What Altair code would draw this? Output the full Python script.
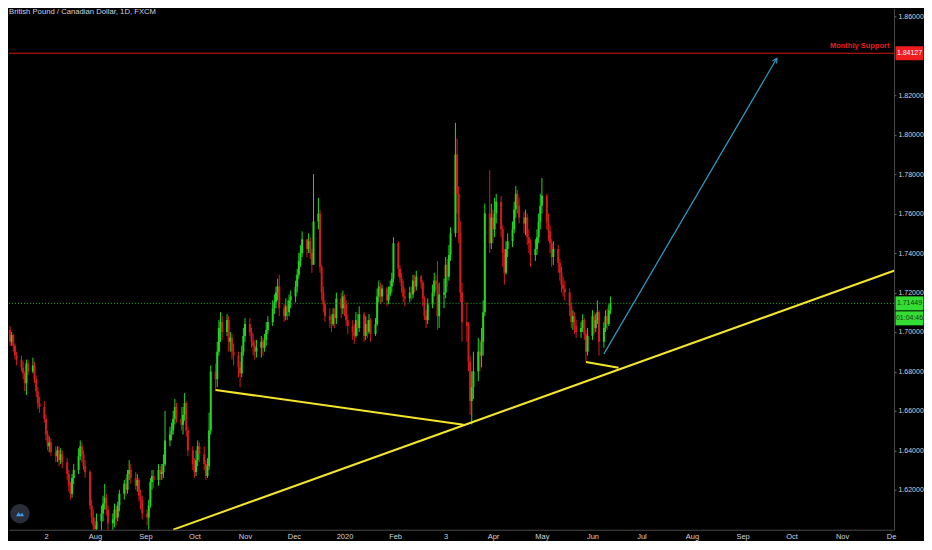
import altair as alt
import pandas as pd

FONT = "Liberation Sans, Arial, sans-serif"
BG = "#000000"
GREEN = "#22d622"
RED = "#d41a1a"
YELLOW = "#f2e52c"
BLUE = "#2b9fc7"
AXIS_TXT = "#d0d2d8"

TITLE = "British Pound / Canadian Dollar, 1D, FXCM"

# ---- daily candles (prices x 10000), one row per trading day, 2019-06-10 .. 2020-06-12
first_open = 17010
close_pips = [
    16950, 16985, 16930, 16880, 16860,  16820, 16790, 16740, 16840, 16800,
    16830, 16760, 16700, 16640, 16620,  16560, 16480, 16420, 16440, 16390,
    16370, 16400, 16350, 16380, 16340,  16280, 16220, 16180, 16260, 16300,
    16370, 16420, 16380, 16320, 16290,  16120, 16060, 16020, 16000, 16040,
    16080, 16130, 16160, 16100, 16030,  16050, 16100, 16060, 16120, 16180,
    16230, 16200, 16280, 16300, 16260,  16220, 16250, 16170, 16150, 16080,
    16060, 16120, 16240, 16270, 16250,  16300, 16280, 16290, 16330, 16450,
    16480, 16500, 16560, 16620, 16560,  16530, 16580, 16640, 16500, 16400,
    16330, 16290, 16350, 16420, 16380,  16330, 16270, 16320, 16500, 16800,
    16760, 16900, 17020, 17050, 17000,  17060, 16950, 16970, 16900, 16880,
    16820, 16790, 16900, 16980, 17040,  17000, 16950, 16930, 16900, 16920,
    16950, 16920, 16960, 17010, 17050,  17120, 17150, 17200, 17230, 17120,
    17080, 17130, 17100, 17160, 17180,  17230, 17290, 17360, 17400, 17470,
    17420, 17460, 17400, 17340, 17560,  17600, 17330, 17200, 17140, 17080,
    17060, 17040, 17090, 17070, 17170,  17120, 17180, 17140, 17060, 17030,
    17000, 16980, 17060, 17020, 17090,  16980, 17040, 17000, 17060, 16990,
    17040, 17180, 17230, 17180, 17220,  17160, 17190, 17230, 17270, 17450,
    17320, 17270, 17230, 17180, 17170,  17200, 17190, 17260, 17230, 17280,
    17250, 17170, 17080, 17060, 17140,  17200, 17260, 17240, 17080, 17190,
    17200, 17340, 17280, 17390, 17500,  17900, 17700, 17500, 17200, 17050,
    17030, 16850, 16650, 16720, 16800,  16900, 16880, 16950, 17100, 17600,
    17450, 17580, 17520, 17600, 17660,  17520, 17400, 17300, 17420, 17460,
    17520, 17620, 17700, 17640, 17580,  17550, 17580, 17480, 17450, 17390,
    17420, 17480, 17560, 17640, 17690,  17560, 17510, 17450, 17380, 17420,
    17350, 17300, 17240, 17220, 17200,  17130, 17050, 17080, 17030, 17000,
    17020, 17060, 16990, 16900, 16980,  17080, 17020, 17060, 17100, 16950,
    17020, 17080, 17040, 17110, 17145,
]
high_pips = [
    17030, 17000, 16990, 16940, 16900,  16880, 16850, 16800, 16860, 16860,
    16870, 16850, 16780, 16720, 16670,  16650, 16580, 16500, 16470, 16460,
    16420, 16420, 16420, 16410, 16400,  16360, 16300, 16240, 16280, 16330,
    16410, 16450, 16440, 16400, 16350,  16300, 16150, 16100, 16060, 16080,
    16120, 16170, 16230, 16180, 16120,  16080, 16130, 16120, 16140, 16200,
    16250, 16260, 16300, 16350, 16330,  16290, 16280, 16260, 16200, 16170,
    16100, 16150, 16260, 16300, 16300,  16330, 16320, 16330, 16380, 16600,
    16520, 16540, 16600, 16660, 16640,  16620, 16620, 16690, 16650, 16520,
    16420, 16360, 16400, 16450, 16440,  16420, 16350, 16360, 16590, 16830,
    16840, 16950, 17060, 17100, 17080,  17090, 17080, 17000, 16990, 16940,
    16900, 16850, 16930, 17020, 17070,  17070, 17020, 16990, 16960, 16960,
    16980, 16970, 16990, 17050, 17080,  17160, 17190, 17230, 17270, 17290,
    17140, 17170, 17160, 17190, 17210,  17260, 17320, 17400, 17440, 17510,
    17470, 17500, 17480, 17420, 17800,  17680, 17620, 17340, 17230, 17160,
    17120, 17090, 17120, 17120, 17200,  17200, 17210, 17190, 17160, 17090,
    17060, 17040, 17100, 17090, 17130,  17100, 17080, 17060, 17090, 17070,
    17070, 17220, 17260, 17250, 17240,  17230, 17230, 17260, 17300, 17480,
    17460, 17340, 17300, 17260, 17220,  17230, 17230, 17290, 17290, 17310,
    17290, 17260, 17180, 17110, 17170,  17240, 17300, 17290, 17360, 17250,
    17270, 17380, 17370, 17440, 17530,  18060, 17980, 17740, 17560, 17250,
    17150, 17050, 16880, 16800, 16900,  16970, 16960, 17020, 17160, 17650,
    17820, 17650, 17620, 17680, 17700,  17690, 17540, 17420, 17460, 17500,
    17560, 17660, 17740, 17720, 17680,  17610, 17620, 17600, 17520, 17470,
    17470, 17520, 17600, 17700, 17780,  17700, 17600, 17540, 17470, 17460,
    17440, 17370, 17330, 17280, 17260,  17220, 17150, 17110, 17100, 17060,
    17050, 17090, 17070, 17010, 17020,  17110, 17100, 17090, 17160, 17110,
    17050, 17110, 17120, 17140, 17180,
]
low_pips = [
    16930, 16930, 16900, 16860, 16830,  16800, 16760, 16700, 16680, 16780,
    16790, 16740, 16670, 16610, 16590,  16540, 16450, 16400, 16390, 16370,
    16340, 16340, 16320, 16330, 16310,  16250, 16190, 16150, 16160, 16230,
    16280, 16350, 16340, 16300, 16260,  16100, 16030, 15990, 15960, 15980,
    15990, 16040, 16100, 16070, 15980,  15990, 16010, 16020, 16040, 16090,
    16150, 16170, 16180, 16250, 16230,  16200, 16190, 16140, 16100, 16050,
    16020, 15990, 16110, 16200, 16210,  16220, 16250, 16250, 16260, 16320,
    16420, 16450, 16480, 16530, 16540,  16500, 16480, 16550, 16470, 16370,
    16300, 16260, 16270, 16320, 16340,  16300, 16250, 16260, 16300, 16480,
    16700, 16720, 16880, 16950, 16960,  16980, 16900, 16900, 16860, 16830,
    16770, 16720, 16770, 16880, 16950,  16980, 16920, 16880, 16860, 16870,
    16870, 16880, 16900, 16930, 16990,  17030, 17090, 17120, 17160, 17080,
    17050, 17060, 17060, 17080, 17120,  17150, 17200, 17270, 17330, 17380,
    17380, 17400, 17370, 17300, 17480,  17520, 17300, 17160, 17100, 17050,
    17020, 17000, 17030, 17020, 17040,  17070, 17090, 17080, 17030, 16990,
    16960, 16940, 16970, 16980, 17000,  16950, 16960, 16970, 16990, 16950,
    16980, 17030, 17150, 17140, 17150,  17130, 17140, 17180, 17200, 17250,
    17280, 17250, 17200, 17150, 17130,  17150, 17160, 17170, 17200, 17210,
    17220, 17130, 17060, 17020, 17040,  17120, 17180, 17210, 17010, 17020,
    17120, 17170, 17230, 17260, 17360,  17480, 17600, 17450, 17150, 16950,
    16950, 16800, 16580, 16530, 16660,  16750, 16800, 16820, 16880, 17080,
    17400, 17420, 17450, 17480, 17550,  17480, 17330, 17240, 17290, 17380,
    17430, 17500, 17580, 17600, 17550,  17500, 17490, 17440, 17400, 17330,
    17360, 17390, 17450, 17520, 17600,  17520, 17460, 17400, 17330, 17340,
    17300, 17260, 17200, 17180, 17160,  17080, 17020, 17010, 16990, 16970,
    16970, 17000, 16960, 16850, 16880,  16960, 16990, 17000, 17040, 16880,
    16920, 17000, 17010, 17030, 17090,
]

dates = pd.bdate_range("2019-06-10", "2020-06-12").strftime("%Y-%m-%d").tolist()
closes = [v / 10000 for v in close_pips]
highs = [v / 10000 for v in high_pips]
lows = [v / 10000 for v in low_pips]
opens = [first_open / 10000] + closes[:-1]
candles = pd.DataFrame({"date": dates, "open": opens, "high": highs,
                        "low": lows, "close": closes})

# ---- drawn lines
seg_start_dates = ["2019-09-18", "2019-10-14", "2020-05-28"]
seg_start_prices = [1.5998, 1.6706, 1.6848]
seg_end_dates = ["2020-12-04", "2020-03-14", "2020-06-17"]
seg_end_prices = [1.7314, 1.6529, 1.6818]
segments = pd.DataFrame({"d1": seg_start_dates, "p1": seg_start_prices,
                         "d2": seg_end_dates, "p2": seg_end_prices})

arrow_dates = ["2020-06-08", "2020-09-22"]
arrow_prices = [1.6889, 1.8387]
arrow = pd.DataFrame({"d1": [arrow_dates[0]], "p1": [arrow_prices[0]],
                      "d2": [arrow_dates[1]], "p2": [arrow_prices[1]]})
arrow_tip = pd.DataFrame({"d": [arrow_dates[1]], "p": [arrow_prices[1]]})

support_level = 1.84127
last_price = 1.71449
countdown = "01:04:46"

# ---- axes
y_ticks = [1.62, 1.64, 1.66, 1.68, 1.70, 1.72, 1.74, 1.76, 1.78, 1.80, 1.82, 1.86]
tick_dates = ["2019-07-02", "2019-08-01", "2019-09-01", "2019-10-01", "2019-11-01",
              "2019-12-01", "2020-01-01", "2020-02-01", "2020-03-03", "2020-04-01",
              "2020-05-01", "2020-06-01", "2020-07-01", "2020-08-01", "2020-09-01",
              "2020-10-01", "2020-11-01", "2020-12-01"]
tick_labels = ["2", "Aug", "Sep", "Oct", "Nov", "Dec", "2020", "Feb", "3", "Apr",
               "May", "Jun", "Jul", "Aug", "Sep", "Oct", "Nov", "De"]

label_expr = "''"
for d, l in reversed(list(zip(tick_dates, tick_labels))):
    label_expr = f"utcFormat(datum.value, '%Y-%m-%d') == '{d}' ? '{l}' : ({label_expr})"

def dt(s, h=0, m=0):
    return alt.DateTime(year=int(s[:4]), month=int(s[5:7]), date=int(s[8:10]),
                        hours=h, minutes=m, utc=True)

xscale = alt.Scale(type="utc", domain=[dt("2019-06-09", 8, 10), dt("2020-12-02", 20, 10)],
                   nice=False)
yscale = alt.Scale(domain=[1.59975, 1.86405], zero=False, nice=False)

xaxis = alt.Axis(values=[dt(d) for d in tick_dates], labelExpr=label_expr,
                 labelColor=AXIS_TXT, labelFontSize=7.5, labelFont=FONT, tickSize=0,
                 labelPadding=3, domainColor="#4a4a4a", grid=False, title=None,
                 labelOverlap=False, labelFlush=False)
yaxis = alt.Axis(orient="right", values=y_ticks, format=".5f", labelColor=AXIS_TXT,
                 labelFontSize=7, labelFont=FONT, tickColor="#666666", tickSize=2,
                 labelPadding=2, domainColor="#4a4a4a", grid=False, title=None,
                 labelFlush=False, labelOverlap=False)

def X(f):
    return alt.X(f, scale=xscale, axis=xaxis)

def Y(f):
    return alt.Y(f, scale=yscale, axis=yaxis)

color_cond = alt.when("datum.close >= datum.open").then(alt.value(GREEN)).otherwise(alt.value(RED))

base = alt.Chart(candles)
wicks = base.mark_rule(strokeWidth=1, clip=True).encode(
    x=X("date:T"), y=Y("low:Q"), y2="high:Q", color=color_cond)
bodies = base.mark_rule(strokeWidth=2, clip=True).encode(
    x=X("date:T"), y=Y("open:Q"), y2="close:Q", color=color_cond)

support_df = pd.DataFrame({"p": [support_level], "d": ["2020-11-30"], "t": ["Monthly Support"]})
red_line = alt.Chart(support_df).mark_rule(color="#d11818", strokeWidth=1.2).encode(
    y=Y("p:Q"))
support_text = alt.Chart(support_df).mark_text(
    align="right", baseline="bottom", dy=-3, color="#e01e1e", fontWeight="bold",
    fontSize=7.5, font=FONT).encode(x=X("d:T"), y=Y("p:Q"), text="t:N")

last_df = pd.DataFrame({"p": [last_price]})
green_line = alt.Chart(last_df).mark_rule(color="#22b022", strokeWidth=1,
                                           strokeDash=[1, 2]).encode(y=Y("p:Q"))

seg_layer = alt.Chart(segments).mark_rule(color=YELLOW, strokeWidth=2, clip=True).encode(
    x=X("d1:T"), x2="d2:T", y=Y("p1:Q"), y2="p2:Q")

arrow_line = alt.Chart(arrow).mark_rule(color=BLUE, strokeWidth=1.2).encode(
    x=X("d1:T"), x2="d2:T", y=Y("p1:Q"), y2="p2:Q")
arrow_head = alt.Chart(arrow_tip).mark_point(
    shape="M-0.55,1L0,0L0.55,1", filled=False, size=80, angle=30, color=BLUE,
    strokeWidth=1.2, opacity=1).encode(x=X("d:T"), y=Y("p:Q"))

BOX = "M-1,-0.5L1,-0.5L1,0.5L-1,0.5Z"
BOX_X = 901.5
tag_red_df = pd.DataFrame({"p": [support_level], "t": [f"{support_level:.5f}"]})
tag_green_df = pd.DataFrame({"p": [last_price], "t": [f"{last_price:.5f}"]})
tag_time_df = pd.DataFrame({"p": [last_price], "t": [countdown]})

def tag(df, fill, txt, yoff=0):
    box = alt.Chart(df).mark_point(shape=BOX, filled=True, size=784, color=fill,
                                   opacity=1, strokeWidth=0, yOffset=yoff).encode(
        x=alt.value(BOX_X), y=Y("p:Q"))
    text = alt.Chart(df).mark_text(align="center", baseline="middle", fontSize=7,
                                   font=FONT, color=txt, dy=yoff).encode(
        x=alt.value(BOX_X), y=Y("p:Q"), text="t:N")
    return box + text

title_df = pd.DataFrame({"t": [TITLE]})
title_text = alt.Chart(title_df).mark_text(
    align="left", baseline="middle", fontSize=7.7, font=FONT, color="#d1d4dc").encode(
    x=alt.value(0), y=alt.value(4), text="t:N")

# TradingView badge in the lower-left corner (kept inside the plot bounds)
badge_df = pd.DataFrame({"k": ["badge"]})
badge = alt.Chart(badge_df).mark_point(shape="circle", filled=True, size=380,
                                       color="#2a2e39", opacity=1, strokeWidth=0).encode(
    x=alt.value(11), y=alt.value(506))
badge_icon = alt.Chart(badge_df).mark_point(
    shape="M-0.8,0.5L-0.3,-0.3L0.1,0.2L0.45,-0.2L0.8,0.5Z", filled=True, size=100,
    color="#3d9be9", opacity=1, strokeWidth=0).encode(x=alt.value(11), y=alt.value(506))

chart = alt.layer(
    wicks, bodies, green_line, red_line, seg_layer, arrow_line, arrow_head,
    support_text,
    tag(tag_red_df, "#f01b1b", "#ffffff"),
    tag(tag_green_df, "#33dd33", "#143d14"),
    tag(tag_time_df, "#33dd33", "#143d14", 15),
    title_text, badge, badge_icon,
).properties(width=886, height=522, padding=0, background=BG).configure_view(
    strokeWidth=0)

chart.save("out.html", embed_options={"renderer": "svg", "actions": False})
